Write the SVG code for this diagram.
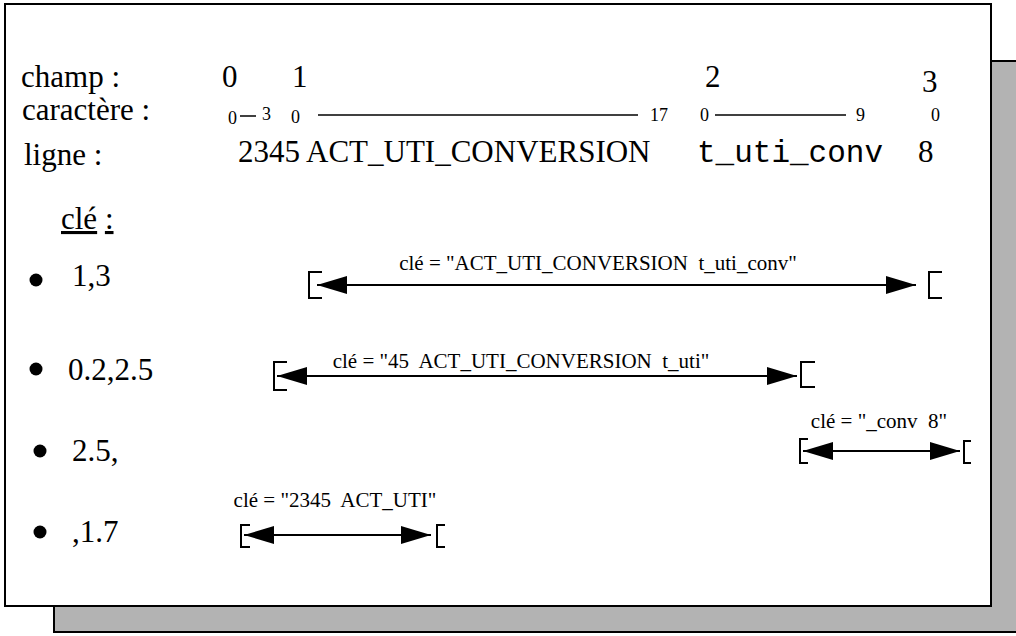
<svg xmlns="http://www.w3.org/2000/svg" width="1016" height="636" viewBox="0 0 1016 636">
<style>
text{font-family:"Liberation Serif","Times New Roman",serif;fill:#000;white-space:pre}
.big{font-size:31px}
.sm{font-size:18px}
.lbl{font-size:21px;text-anchor:middle}
.mono{font-family:"Liberation Mono","Courier New",monospace;font-size:31px}
.br{fill:none;stroke:#000;stroke-width:2}
.ln{stroke:#000;stroke-width:1.5;fill:none}
.con{stroke:#000;stroke-width:2;fill:none;marker-start:url(#ah);marker-end:url(#ah)}
</style>
<defs>
<marker id="ah" markerUnits="userSpaceOnUse" markerWidth="30" markerHeight="20" refX="30" refY="9" orient="auto-start-reverse" viewBox="0 0 30 18">
<path d="M0,0 L30,9 L0,18 Z" fill="#000"/>
</marker>
</defs>
<g id="frame">
<rect x="54" y="61" width="970" height="571" fill="#b3b3b3" stroke="#000" stroke-width="2"/>
<rect x="5" y="4" width="986" height="602" fill="#fff" stroke="#000" stroke-width="2"/>
</g>
<g id="header">
<text class="big" x="21" y="87">champ :</text>
<text class="big" x="22" y="120">caractère :</text>
<text class="big" x="24" y="165">ligne :</text>
<text class="big" x="222" y="87">0</text>
<text class="big" x="292" y="87">1</text>
<text class="big" x="705" y="87">2</text>
<text class="big" x="922" y="92">3</text>
<text class="sm" x="228" y="124">0</text>
<line class="ln" x1="240" y1="116" x2="256" y2="116"/>
<text class="sm" x="262" y="120">3</text>
<text class="sm" x="291" y="123">0</text>
<line class="ln" x1="318" y1="115" x2="638" y2="115"/>
<text class="sm" x="650" y="121">17</text>
<text class="sm" x="700" y="121">0</text>
<line class="ln" x1="715" y1="115" x2="846" y2="115"/>
<text class="sm" x="856" y="121">9</text>
<text class="sm" x="931" y="121">0</text>
<text class="big" x="238" y="162">2345 ACT_UTI_CONVERSION</text>
<text class="mono" x="697" y="162">t_uti_conv</text>
<text class="big" x="918" y="162">8</text>
</g>
<g id="cle">
<text class="big" x="61" y="229"><tspan text-decoration="underline">clé</tspan> <tspan text-decoration="underline">:</tspan></text>
</g>
<g id="item1">
<circle cx="36" cy="280" r="6.5"/>
<text class="big" x="72" y="286">1,3</text>
<text class="lbl" x="598" y="270">clé = "ACT_UTI_CONVERSION  t_uti_conv"</text>
<path class="br" d="M322,272 H309 V298 H322"/>
<path class="br" d="M942,272 H929 V298 H942"/>
</g>
<g id="item2">
<circle cx="36" cy="369" r="6.5"/>
<text class="big" x="68" y="380">0.2,2.5</text>
<text class="lbl" x="521" y="368">clé = "45  ACT_UTI_CONVERSION  t_uti"</text>
<path class="br" d="M287,362 H274 V390 H287"/>
<path class="br" d="M815,362 H801 V387 H815"/>
</g>
<g id="item3">
<circle cx="40" cy="451" r="6.5"/>
<text class="big" x="72" y="461">2.5,</text>
<text class="lbl" x="879" y="428">clé = "_conv  8"</text>
<path class="br" d="M808,439 H800 V463 H808"/>
<path class="br" d="M971,441 H964 V463 H971"/>
</g>
<g id="item4">
<circle cx="40" cy="532" r="6.5"/>
<text class="big" x="72" y="542">,1.7</text>
<text class="lbl" x="335" y="507">clé = "2345  ACT_UTI"</text>
<path class="br" d="M250,525 H241 V547 H250"/>
<path class="br" d="M445,525 H437 V547 H445"/>
</g>
<g id="connectors">
<line class="con" x1="317" y1="285" x2="916" y2="285"/>
<line class="con" x1="277" y1="376" x2="797" y2="376"/>
<line class="con" x1="803" y1="451" x2="960" y2="451"/>
<line class="con" x1="244" y1="535" x2="431" y2="535"/>
</g>
</svg>
